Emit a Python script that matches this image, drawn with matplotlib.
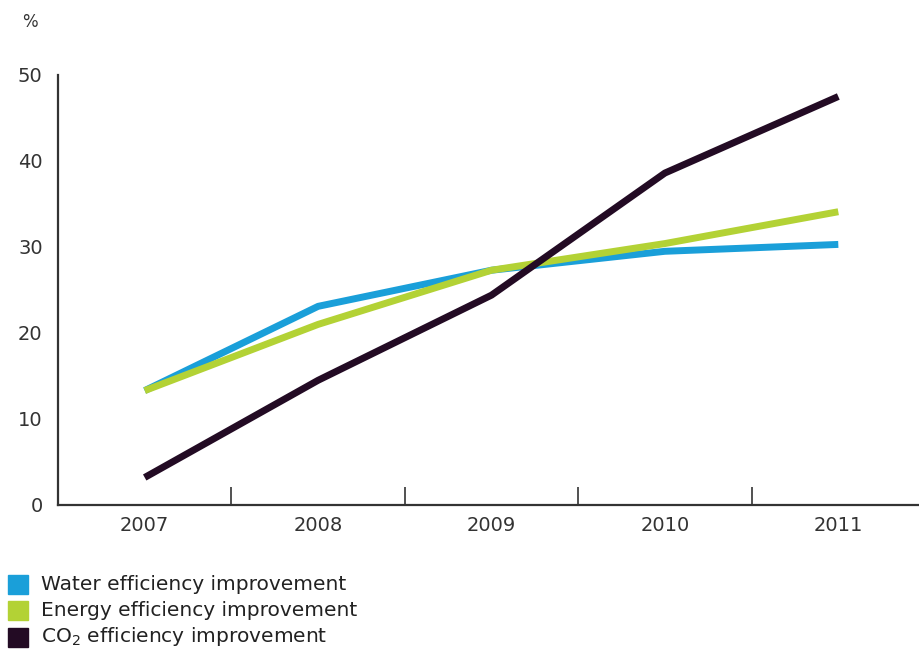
import matplotlib.pyplot as plt
from matplotlib.patches import Rectangle

plt.rcParams["font.family"] = ["DejaVu Sans"]

years = ["2007", "2008", "2009", "2010", "2011"]
water = [13.3, 23.1, 27.3, 29.5, 30.3]
energy = [13.3, 21.0, 27.3, 30.4, 34.1]
co2 = [3.2, 14.5, 24.4, 38.6, 47.5]

series = [
    ("Water efficiency improvement", water, "#1a9fd9"),
    ("Energy efficiency improvement", energy, "#b3d235"),
    ("CO$_2$ efficiency improvement", co2, "#230b24"),
]

fig = plt.figure(figsize=(9.2, 6.58), dpi=100)
ax = fig.add_axes([58 / 920, 153 / 658, 867 / 920, 430 / 658])

x = list(range(1, len(years) + 1))
for label, vals, color in series:
    ax.plot(x, vals, color=color, lw=5, solid_capstyle="butt",
            solid_joinstyle="round")

ax.set_xlim(0.5, len(years) + 0.5)
ax.set_ylim(0, 50)

# category labels centred, tick marks on the category boundaries
ax.set_xticks(x)
ax.set_xticklabels(years, fontsize=14, color="#333333")
ax.set_xticks([i + 0.5 for i in x[:-1]] + [len(years) + 0.5], minor=True)
ax.tick_params(axis="x", which="major", length=0, pad=8)
ax.tick_params(axis="x", which="minor", direction="in", length=13,
               width=1.2, color="#333333")
ax.set_yticks(range(0, 51, 10))
ax.tick_params(axis="y", length=0, pad=11, labelsize=14,
               labelcolor="#333333")

for side in ("top", "right"):
    ax.spines[side].set_visible(False)
for side in ("left", "bottom"):
    ax.spines[side].set_color("#333333")
    ax.spines[side].set_linewidth(1.6)

fig.text(30 / 920, 1 - 22 / 658, "%", fontsize=12, color="#333333",
         ha="center", va="center")

# legend swatches under the plot
for i, (label, vals, color) in enumerate(series):
    yc = 1 - (584 + 26.5 * i) / 658
    fig.patches.append(Rectangle((8 / 920, yc - 9.5 / 658), 20 / 920, 19 / 658,
                                 transform=fig.transFigure, color=color))
    fig.text(41 / 920, yc, label, fontsize=14.5, color="#222222",
             va="center", ha="left")

fig.savefig("out.png", dpi=100)
